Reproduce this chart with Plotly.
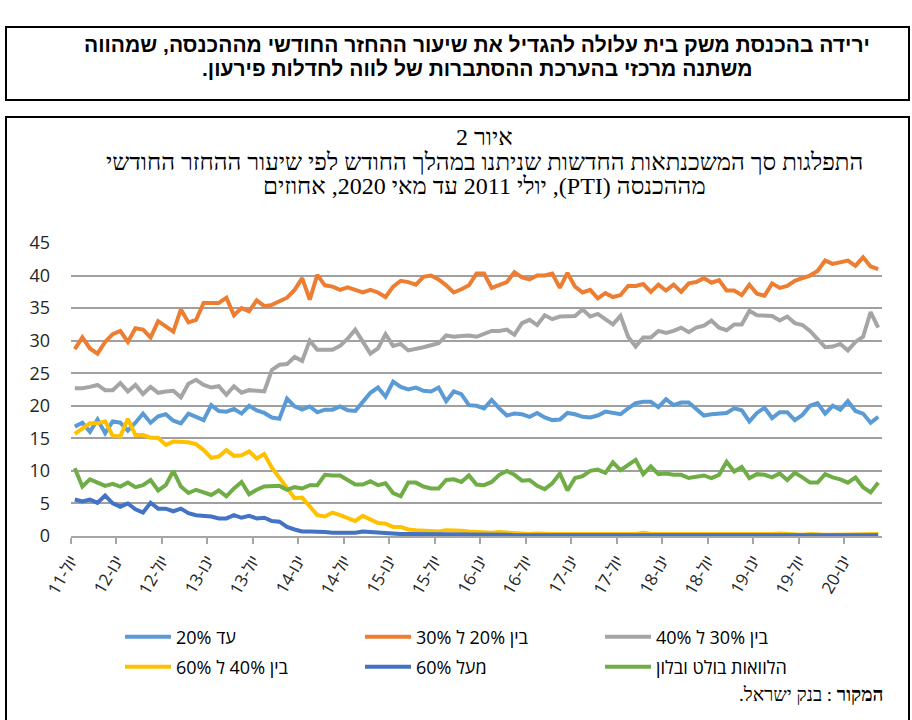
import plotly.graph_objects as go

# Monthly categories: July 2011 .. May 2020 (107 months)
n_months = 107
tick_positions = list(range(0, 103, 6))
tick_labels = ["יול-11", "ינו-12", "יול-12", "ינו-13", "יול-13", "ינו-14",
               "יול-14", "ינו-15", "יול-15", "ינו-16", "יול-16", "ינו-17",
               "יול-17", "ינו-18", "יול-18", "ינו-19", "יול-19", "ינו-20"]

upto_20 = [16.8, 17.4, 16.0, 17.9, 15.8, 17.6, 17.4, 16.2, 17.4, 18.8,
           17.4, 18.4, 18.7, 17.7, 17.3, 18.8, 18.3, 17.8, 20.1, 19.2,
           19.1, 19.5, 18.8, 20.0, 19.3, 18.9, 18.2, 18.0, 21.1, 19.9,
           19.4, 19.9, 19.0, 19.4, 19.4, 19.9, 19.3, 19.2, 20.6, 22.0,
           22.8, 21.4, 23.7, 22.9, 22.5, 22.8, 22.3, 22.2, 22.8, 20.7,
           22.2, 21.8, 20.1, 20.0, 19.6, 20.9, 19.6, 18.5, 18.8, 18.7,
           18.3, 18.9, 18.2, 17.8, 17.9, 18.9, 18.7, 18.3, 18.2, 18.5,
           19.1, 18.9, 18.7, 19.6, 20.4, 20.6, 20.6, 19.8, 21.0, 20.1,
           20.5, 20.5, 19.4, 18.5, 18.7, 18.8, 18.9, 19.6, 19.3, 17.6,
           18.9, 19.7, 18.1, 19.0, 19.0, 17.8, 18.6, 20.0, 20.4, 18.8,
           20.0, 19.4, 20.7, 19.2, 18.8, 17.4, 18.3]

from_20_to_30 = [28.7, 30.5, 28.8, 28.0, 29.8, 31.0, 31.5, 29.8, 31.9, 31.7,
                 30.5, 33.0, 32.2, 31.4, 34.8, 32.8, 33.2, 35.8, 35.8, 35.8,
                 36.6, 33.9, 35.0, 34.5, 36.2, 35.3, 35.5, 36.0, 36.6, 37.8,
                 39.6, 36.3, 40.1, 38.5, 38.3, 37.8, 38.2, 37.8, 37.4, 37.8,
                 37.4, 36.7, 38.3, 39.2, 39.0, 38.6, 39.8, 40.0, 39.4, 38.5,
                 37.4, 37.9, 38.5, 40.3, 40.3, 38.1, 38.5, 39.0, 40.5, 39.7,
                 39.4, 40.0, 40.0, 40.3, 38.1, 40.4, 38.3, 37.4, 37.8, 36.5,
                 37.3, 36.7, 37.0, 38.4, 38.4, 38.7, 37.5, 38.6, 37.7, 38.6,
                 37.5, 38.8, 39.0, 39.6, 38.9, 39.3, 37.7, 37.7, 37.0, 38.6,
                 37.2, 36.9, 38.8, 38.1, 38.4, 39.2, 39.6, 40.0, 40.7, 42.3,
                 41.8, 42.1, 42.3, 41.5, 42.8, 41.4, 41.0]

from_30_to_40 = [22.7, 22.7, 22.9, 23.2, 22.4, 22.4, 23.5, 22.2, 23.2, 21.8,
                 22.9, 22.0, 22.2, 22.3, 21.3, 23.4, 24.0, 23.2, 22.8, 23.0,
                 21.7, 23.0, 22.0, 22.4, 22.3, 22.2, 25.5, 26.3, 26.4, 27.5,
                 26.9, 30.0, 28.6, 28.6, 28.6, 29.2, 30.3, 31.7, 29.8, 28.0,
                 28.8, 31.0, 29.2, 29.5, 28.5, 28.7, 29.0, 29.3, 29.6, 30.8,
                 30.6, 30.7, 30.8, 30.6, 31.1, 31.5, 31.5, 31.7, 30.9, 32.7,
                 33.2, 32.4, 33.9, 33.3, 33.7, 33.7, 33.8, 34.8, 33.7, 34.1,
                 33.3, 32.5, 33.8, 30.6, 29.1, 30.5, 30.5, 31.5, 31.2, 31.5,
                 32.0, 31.3, 32.0, 32.3, 33.1, 32.0, 31.6, 32.5, 32.5, 34.6,
                 33.9, 33.8, 33.8, 33.1, 33.7, 32.7, 32.4, 31.5, 30.2, 29.0,
                 29.1, 29.5, 28.5, 29.8, 30.6, 34.4, 32.0]

from_40_to_60 = [15.7, 16.5, 17.3, 17.3, 17.6, 15.4, 15.3, 18.0, 15.5, 15.5,
                 15.1, 15.1, 14.0, 14.5, 14.4, 14.4, 14.1, 13.2, 12.0, 12.2,
                 13.2, 12.3, 12.4, 13.0, 11.9, 12.6, 10.5, 9.0, 7.3, 5.8,
                 5.9, 4.5, 3.2, 3.0, 3.6, 3.2, 2.7, 2.3, 3.1, 2.6,
                 2.0, 1.9, 1.4, 1.4, 1.0, 0.9, 0.8, 0.8, 0.7, 0.9,
                 0.9, 0.8, 0.7, 0.6, 0.5, 0.5, 0.6, 0.5, 0.4, 0.4,
                 0.3, 0.4, 0.3, 0.3, 0.3, 0.3, 0.4, 0.3, 0.3, 0.3,
                 0.3, 0.3, 0.3, 0.4, 0.3, 0.5, 0.3, 0.3, 0.3, 0.3,
                 0.3, 0.3, 0.2, 0.3, 0.3, 0.3, 0.2, 0.2, 0.2, 0.3,
                 0.3, 0.2, 0.3, 0.4, 0.3, 0.2, 0.2, 0.3, 0.2, 0.2,
                 0.2, 0.2, 0.2, 0.2, 0.2, 0.3, 0.3]

above_60 = [5.6, 5.3, 5.6, 5.1, 6.2, 5.0, 4.5, 5.0, 4.1, 3.6,
            5.1, 4.2, 4.2, 3.8, 4.2, 3.5, 3.2, 3.1, 3.0, 2.7,
            2.7, 3.2, 2.8, 3.1, 2.7, 2.8, 2.3, 2.2, 1.4, 1.0,
            0.7, 0.7, 0.7, 0.6, 0.5, 0.5, 0.5, 0.5, 0.7, 0.6,
            0.5, 0.4, 0.4, 0.3, 0.3, 0.3, 0.3, 0.3, 0.2, 0.2,
            0.2, 0.2, 0.2, 0.2, 0.3, 0.2, 0.2, 0.2, 0.1, 0.1,
            0.1, 0.1, 0.1, 0.1, 0.1, 0.1, 0.1, 0.1, 0.1, 0.1,
            0.1, 0.1, 0.1, 0.1, 0.1, 0.1, 0.1, 0.1, 0.1, 0.1,
            0.1, 0.1, 0.1, 0.1, 0.1, 0.1, 0.1, 0.1, 0.1, 0.1,
            0.1, 0.1, 0.1, 0.1, 0.1, 0.1, 0.1, 0.1, 0.1, 0.1,
            0.1, 0.1, 0.1, 0.1, 0.1, 0.1, 0.1]

bullet_balloon = [10.4, 7.6, 8.7, 8.2, 7.7, 8.0, 7.6, 8.2, 7.5, 7.8,
                  8.6, 7.0, 7.8, 10.0, 7.6, 6.6, 7.1, 6.7, 6.3, 7.0,
                  6.1, 7.3, 8.3, 6.4, 7.1, 7.6, 7.7, 7.7, 7.1, 7.5,
                  7.3, 7.8, 7.8, 9.4, 9.3, 9.3, 8.6, 7.9, 7.9, 8.4,
                  7.8, 8.1, 6.6, 6.1, 8.2, 8.2, 7.6, 7.3, 7.3, 8.6,
                  8.7, 8.3, 9.3, 7.9, 7.8, 8.3, 9.4, 10.0, 9.4, 8.5,
                  8.6, 7.7, 7.2, 8.1, 9.6, 7.0, 8.9, 9.2, 10.0, 10.2,
                  9.7, 11.3, 10.1, 10.9, 11.7, 9.5, 10.7, 9.5, 9.6, 9.4,
                  9.4, 8.9, 9.1, 9.3, 8.9, 9.4, 11.4, 9.9, 10.6, 8.9,
                  9.5, 9.4, 9.0, 9.6, 8.6, 9.7, 9.0, 8.2, 8.2, 9.5,
                  9.0, 8.7, 8.2, 9.0, 7.5, 6.7, 8.2]

series_names = ["עד 20%", "בין 20% ל 30%", "בין 30% ל 40%",
                "בין 40% ל 60%", "מעל 60%", "הלוואות בולט ובלון"]
series_values = [upto_20, from_20_to_30, from_30_to_40,
                 from_40_to_60, above_60, bullet_balloon]
series_colors = ["#5B9BD5", "#ED7D31", "#A5A5A5", "#FFC000", "#4472C4", "#70AD47"]
series_legend_row = ["legend", "legend", "legend", "legend2", "legend2", "legend2"]

title_lines = ["ירידה בהכנסת משק בית עלולה להגדיל את שיעור ההחזר החודשי מההכנסה, שמהווה",
               "משתנה מרכזי בהערכת ההסתברות של לווה לחדלות פירעון."]
figure_label = "איור 2"
subtitle_lines = ["התפלגות סך המשכנתאות החדשות שניתנו במהלך החודש לפי שיעור ההחזר החודשי",
                  "מההכנסה (PTI), יולי 2011 עד מאי 2020, אחוזים"]
source_bold = "המקור"
source_rest = " : בנק ישראל."

RLE, PDF = "\u202b", "\u202c"


def rtl(s):
    return RLE + s + PDF


# canvas geometry in pixels
W, H = 912, 720
PL, PR, PT, PB = 71, 882, 243, 536


def px(x):
    return (x - PL) / (PR - PL)


def py(y):
    return (PB - y) / (PB - PT)


x_centres = [i + 0.5 for i in range(n_months)]

fig = go.Figure()
for name, vals, col, lg in zip(series_names, series_values, series_colors, series_legend_row):
    fig.add_trace(go.Scatter(
        x=x_centres, y=vals, mode="lines", name=rtl(name), legend=lg,
        line=dict(color=col, width=4, shape="linear"),
        hoverinfo="skip",
    ))

legend_font = dict(size=18, family="Open Sans, Liberation Sans, sans-serif", color="#000000")
legend_common = dict(
    orientation="h", xanchor="left", yanchor="middle",
    entrywidth=179, entrywidthmode="pixels", itemwidth=46,
    font=legend_font, traceorder="normal", bgcolor="rgba(0,0,0,0)",
)

fig.update_layout(
    width=W, height=H,
    margin=dict(l=PL, r=W - PR, t=PT, b=H - PB),
    paper_bgcolor="white", plot_bgcolor="white",
    font=dict(family="Open Sans, Liberation Sans, sans-serif", color="#262626"),
    showlegend=True,
    legend=dict(x=px(120), y=py(637), **legend_common),
    legend2=dict(x=px(120), y=py(667), **legend_common),
)

fig.update_xaxes(
    range=[0, n_months], tickmode="array", tickvals=tick_positions, ticktext=tick_labels,
    tickangle=-60, ticks="outside", ticklen=6, tickwidth=1.5, tickcolor="#a6a6a6",
    showline=True, linecolor="#a6a6a6", linewidth=1.5, showgrid=False, zeroline=False,
    tickfont=dict(size=17, family="Open Sans, Liberation Sans, sans-serif", color="#262626"),
)
fig.update_yaxes(
    range=[0, 45], dtick=5, tick0=0, showgrid=True, gridcolor="#a0a0a0", gridwidth=1.5,
    zeroline=False, showline=False, ticks="", ticklabelstandoff=20,
    tickfont=dict(size=18, family="Open Sans, Liberation Sans, sans-serif", color="#262626"),
)

# framing boxes
fig.add_shape(type="rect", xref="paper", yref="paper",
              x0=px(6), x1=px(909), y0=py(27), y1=py(100),
              line=dict(color="#000000", width=2), fillcolor="rgba(0,0,0,0)", layer="below")
fig.add_shape(type="rect", xref="paper", yref="paper",
              x0=px(6), x1=px(909), y0=py(117), y1=py(730),
              line=dict(color="#000000", width=2), fillcolor="rgba(0,0,0,0)", layer="below")

title_font = dict(size=21, family="Liberation Sans, DejaVu Sans, sans-serif", color="#000000")
for line, yc in zip(title_lines, [45, 68]):
    fig.add_annotation(
        xref="paper", yref="paper", x=px(477), y=py(yc), xanchor="center", yanchor="middle",
        text="<b>" + rtl(line) + "</b>", showarrow=False, font=title_font,
    )

serif_font = dict(size=24, family="Liberation Serif, DejaVu Serif, serif", color="#000000")
for line, yc in zip([figure_label] + subtitle_lines, [137, 162, 186]):
    fig.add_annotation(
        xref="paper", yref="paper", x=px(484), y=py(yc), xanchor="center", yanchor="middle",
        text=rtl(line), showarrow=False, font=serif_font,
    )

fig.add_annotation(
    xref="paper", yref="paper", x=px(885), y=py(694), xanchor="right", yanchor="middle",
    text=RLE + "<b>" + source_bold + "</b>" + source_rest + PDF, showarrow=False,
    font=dict(size=19, family="Liberation Serif, DejaVu Serif, serif", color="#000000"),
)

fig.write_html("out.html")
